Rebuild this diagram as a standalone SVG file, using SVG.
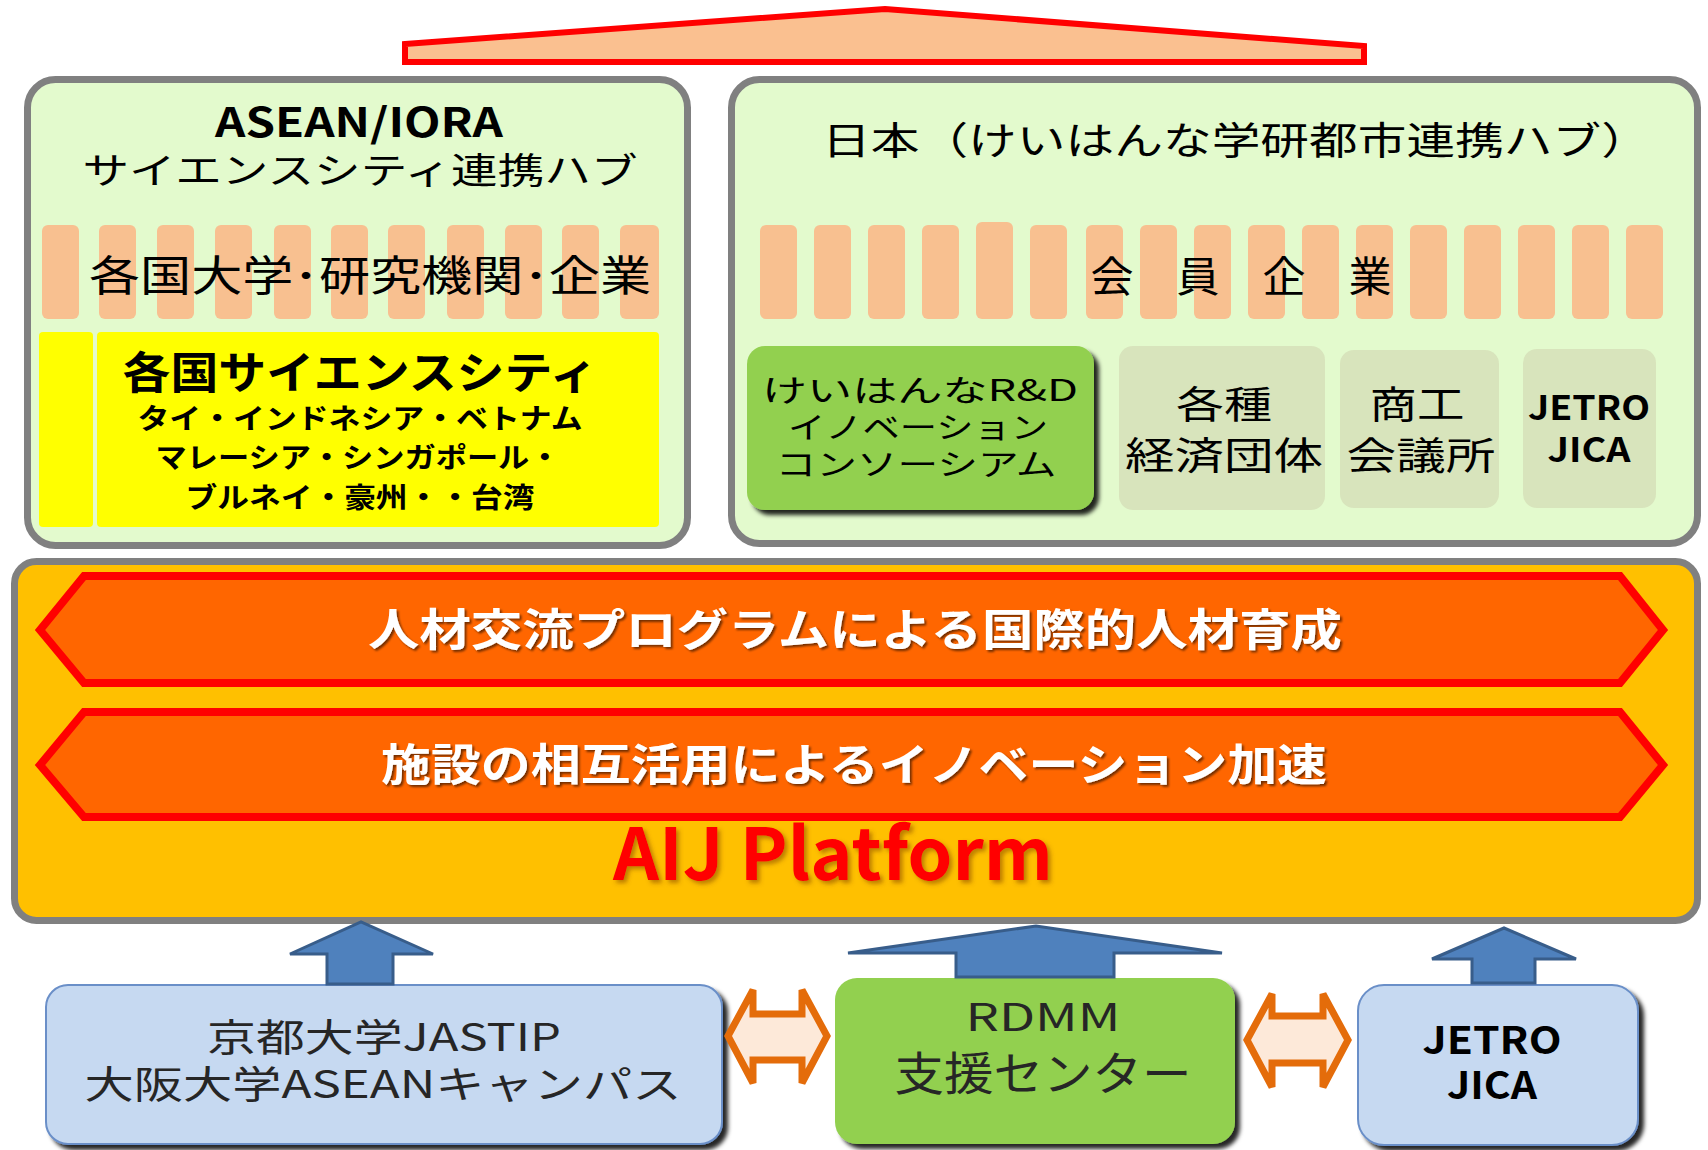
<svg xmlns="http://www.w3.org/2000/svg" width="1708" height="1150" viewBox="0 0 1708 1150">
<style>
.jp{font-family:"Noto Sans CJK JP","Noto Sans",sans-serif;fill:#000}
.b{font-weight:bold}
.hub{fill:#e3facd;stroke:#808080;stroke-width:7}
.stripe{fill:#f8c090}
.gbox{fill:#d8e4bc}
.chev{fill:#ff6600;stroke:#ff0000;stroke-width:8;stroke-linejoin:miter}
.chevtxt{fill:#fff;font-weight:bold}
.bbox{fill:#c6d9f1;stroke:#6a8fc8;stroke-width:2}
.up{fill:#4f81bd;stroke:#385d8a;stroke-width:3}
.dbl{fill:#fde9d9;stroke:#e46c0a;stroke-width:7;stroke-linejoin:miter}
.dark{fill:#262626}
</style>
<defs>
<filter id="sh" x="-10%" y="-10%" width="130%" height="130%">
<feDropShadow dx="5" dy="5" stdDeviation="2" flood-color="#000" flood-opacity="0.85"/>
</filter>
<filter id="tsh" x="-5%" y="-20%" width="110%" height="150%">
<feDropShadow dx="2" dy="2" stdDeviation="1.2" flood-color="#000" flood-opacity="0.55"/>
</filter>
<filter id="rsh" x="-5%" y="-20%" width="110%" height="150%">
<feDropShadow dx="3" dy="3" stdDeviation="2" flood-color="#7a3a00" flood-opacity="0.5"/>
</filter>
</defs>

<g id="roof">
<polygon points="405,44 885,9 1364,46 1364,62 405,62" fill="#fac090" stroke="#ff0000" stroke-width="6"/>
</g>

<g id="asean-hub">
<rect class="hub" x="27.5" y="79.5" width="660" height="466" rx="28"/>
<text class="jp b" x="359" y="137" font-size="40" text-anchor="middle" textLength="288" lengthAdjust="spacingAndGlyphs">ASEAN/IORA</text>
<text class="jp" x="360" y="184" font-size="36" text-anchor="middle" textLength="555" lengthAdjust="spacingAndGlyphs">サイエンスシティ連携ハブ</text>
</g>

<g id="asean-members">
<rect class="stripe" x="42" y="225" width="37" height="94" rx="6"/>
<rect class="stripe" x="99" y="225" width="37" height="94" rx="6"/>
<rect class="stripe" x="157" y="225" width="37" height="94" rx="6"/>
<rect class="stripe" x="215" y="225" width="37" height="94" rx="6"/>
<rect class="stripe" x="274" y="225" width="37" height="94" rx="6"/>
<rect class="stripe" x="331" y="225" width="37" height="94" rx="6"/>
<rect class="stripe" x="388" y="225" width="37" height="94" rx="6"/>
<rect class="stripe" x="447" y="225" width="37" height="94" rx="6"/>
<rect class="stripe" x="505" y="225" width="37" height="94" rx="6"/>
<rect class="stripe" x="562" y="225" width="37" height="94" rx="6"/>
<rect class="stripe" x="620" y="225" width="39" height="94" rx="6"/>
<text class="jp" x="370" y="291" font-size="42" text-anchor="middle" textLength="562" lengthAdjust="spacingAndGlyphs">各国大学･研究機関･企業</text>
</g>

<g id="science-cities">
<rect x="39" y="332" width="54" height="195" rx="4" fill="#ffff00"/>
<rect x="97" y="332" width="562" height="195" rx="4" fill="#ffff00"/>
<text class="jp b" x="360" y="389" font-size="44" text-anchor="middle" textLength="475" lengthAdjust="spacingAndGlyphs">各国サイエンスシティ</text>
<text class="jp b" x="360" y="429" font-size="28" text-anchor="middle" textLength="445" lengthAdjust="spacingAndGlyphs">タイ・インドネシア・ベトナム</text>
<text class="jp b" x="358" y="468" font-size="28" text-anchor="middle" textLength="405" lengthAdjust="spacingAndGlyphs">マレーシア・シンガポール・</text>
<text class="jp b" x="360" y="508" font-size="28" text-anchor="middle" textLength="349" lengthAdjust="spacingAndGlyphs">ブルネイ・豪州・・台湾</text>
</g>

<g id="japan-hub">
<rect class="hub" x="731.5" y="79.5" width="966" height="464" rx="28"/>
<text class="jp" x="1236" y="154" font-size="38" text-anchor="middle" textLength="828" lengthAdjust="spacingAndGlyphs">日本（けいはんな学研都市連携ハブ）</text>
</g>

<g id="member-companies">
<rect class="stripe" x="760" y="225" width="37" height="94" rx="6"/>
<rect class="stripe" x="814" y="225" width="37" height="94" rx="6"/>
<rect class="stripe" x="868" y="225" width="37" height="94" rx="6"/>
<rect class="stripe" x="922" y="225" width="37" height="94" rx="6"/>
<rect class="stripe" x="976" y="222" width="37" height="97" rx="6"/>
<rect class="stripe" x="1030" y="225" width="37" height="94" rx="6"/>
<rect class="stripe" x="1086" y="225" width="37" height="94" rx="6"/>
<rect class="stripe" x="1140" y="225" width="37" height="94" rx="6"/>
<rect class="stripe" x="1194" y="225" width="37" height="94" rx="6"/>
<rect class="stripe" x="1248" y="225" width="37" height="94" rx="6"/>
<rect class="stripe" x="1302" y="225" width="37" height="94" rx="6"/>
<rect class="stripe" x="1356" y="225" width="37" height="94" rx="6"/>
<rect class="stripe" x="1410" y="225" width="37" height="94" rx="6"/>
<rect class="stripe" x="1464" y="225" width="37" height="94" rx="6"/>
<rect class="stripe" x="1518" y="225" width="37" height="94" rx="6"/>
<rect class="stripe" x="1572" y="225" width="37" height="94" rx="6"/>
<rect class="stripe" x="1626" y="225" width="37" height="94" rx="6"/>
<text class="jp" x="1241" y="292" font-size="42" text-anchor="middle" textLength="301" lengthAdjust="spacingAndGlyphs">会　員　企　業</text>
</g>

<g id="consortium">
<rect x="747" y="346" width="347" height="164" rx="18" fill="#92d050" filter="url(#sh)"/>
<text class="jp" x="920" y="401" font-size="30" text-anchor="middle" textLength="316" lengthAdjust="spacingAndGlyphs">けいはんなR&amp;D</text>
<text class="jp" x="918" y="438" font-size="30" text-anchor="middle" textLength="260" lengthAdjust="spacingAndGlyphs">イノベーション</text>
<text class="jp" x="916" y="475" font-size="30" text-anchor="middle" textLength="281" lengthAdjust="spacingAndGlyphs">コンソーシアム</text>
</g>

<g id="economic-groups">
<rect class="gbox" x="1119" y="346" width="206" height="164" rx="14"/>
<text class="jp" x="1224" y="418" font-size="38" text-anchor="middle" textLength="96" lengthAdjust="spacingAndGlyphs">各種</text>
<text class="jp" x="1224" y="469" font-size="38" text-anchor="middle" textLength="198" lengthAdjust="spacingAndGlyphs">経済団体</text>
</g>

<g id="chamber">
<rect class="gbox" x="1340" y="350" width="159" height="158" rx="14"/>
<text class="jp" x="1417" y="418" font-size="38" text-anchor="middle" textLength="95" lengthAdjust="spacingAndGlyphs">商工</text>
<text class="jp" x="1421" y="469" font-size="38" text-anchor="middle" textLength="149" lengthAdjust="spacingAndGlyphs">会議所</text>
</g>

<g id="jetro-jica-top">
<rect class="gbox" x="1523" y="349" width="133" height="159" rx="14"/>
<text class="jp b" x="1589" y="420" font-size="34" text-anchor="middle" textLength="122" lengthAdjust="spacingAndGlyphs">JETRO</text>
<text class="jp b" x="1589" y="462" font-size="34" text-anchor="middle" textLength="83" lengthAdjust="spacingAndGlyphs">JICA</text>
</g>

<g id="aij-platform">
<rect x="14.5" y="561.5" width="1683" height="359" rx="22" fill="#ffc000" stroke="#808080" stroke-width="7"/>
<text class="jp b" x="833" y="880" font-size="72" text-anchor="middle" style="fill:#ff0000" textLength="440" lengthAdjust="spacingAndGlyphs" filter="url(#rsh)">AIJ Platform</text>
</g>

<g id="program-exchange">
<polygon class="chev" points="40,630 84,576 1620,576 1663,630 1620,683 84,683"/>
<text class="jp chevtxt" x="855" y="646" font-size="44" text-anchor="middle" style="fill:#fff" textLength="974" lengthAdjust="spacingAndGlyphs" filter="url(#tsh)">人材交流プログラムによる国際的人材育成</text>
</g>

<g id="facility-sharing">
<polygon class="chev" points="40,765 84,712 1620,712 1663,765 1620,817 84,817"/>
<text class="jp chevtxt" x="854" y="781" font-size="44" text-anchor="middle" style="fill:#fff" textLength="946" lengthAdjust="spacingAndGlyphs" filter="url(#tsh)">施設の相互活用によるイノベーション加速</text>
</g>

<g id="kyoto-osaka">
<rect class="bbox" x="46" y="985" width="676" height="159" rx="22" filter="url(#sh)"/>
<text class="jp dark" x="384" y="1051" font-size="38" text-anchor="middle" style="fill:#262626" textLength="354" lengthAdjust="spacingAndGlyphs">京都大学JASTIP</text>
<text class="jp dark" x="383" y="1098" font-size="38" text-anchor="middle" style="fill:#262626" textLength="597" lengthAdjust="spacingAndGlyphs">大阪大学ASEANキャンパス</text>
</g>

<g id="rdmm">
<rect x="835" y="978" width="400" height="166" rx="22" fill="#92d050" filter="url(#sh)"/>
<text class="jp dark" x="1043" y="1031" font-size="38" text-anchor="middle" style="fill:#262626" textLength="155" lengthAdjust="spacingAndGlyphs">RDMM</text>
<text class="jp dark" x="1043" y="1090" font-size="46" text-anchor="middle" style="fill:#262626" textLength="297" lengthAdjust="spacingAndGlyphs">支援センター</text>
</g>

<g id="jetro-jica-bottom">
<rect class="bbox" x="1358" y="985" width="280" height="160" rx="26" filter="url(#sh)"/>
<text class="jp b" x="1492" y="1054" font-size="38" text-anchor="middle" textLength="139" lengthAdjust="spacingAndGlyphs">JETRO</text>
<text class="jp b" x="1492" y="1099" font-size="38" text-anchor="middle" textLength="90" lengthAdjust="spacingAndGlyphs">JICA</text>
</g>

<g id="connectors">
<polygon class="up" points="327,984 327,954 290,954 361,922 433,954 393,954 393,984"/>
<polygon class="up" points="956,977 956,953 848,953 1036,926 1222,953 1114,953 1114,977"/>
<polygon class="up" points="1472,983 1472,959 1432,959 1504,928 1576,959 1535,959 1535,983"/>
<polygon class="dbl" points="728,1036 753,990 753,1014 802,1014 802,990 827,1036 802,1083 802,1060 753,1060 753,1083"/>
<polygon class="dbl" points="1247,1040 1272,994 1272,1016 1323,1016 1323,994 1348,1040 1323,1087 1323,1063 1272,1063 1272,1087"/>
</g>
</svg>
